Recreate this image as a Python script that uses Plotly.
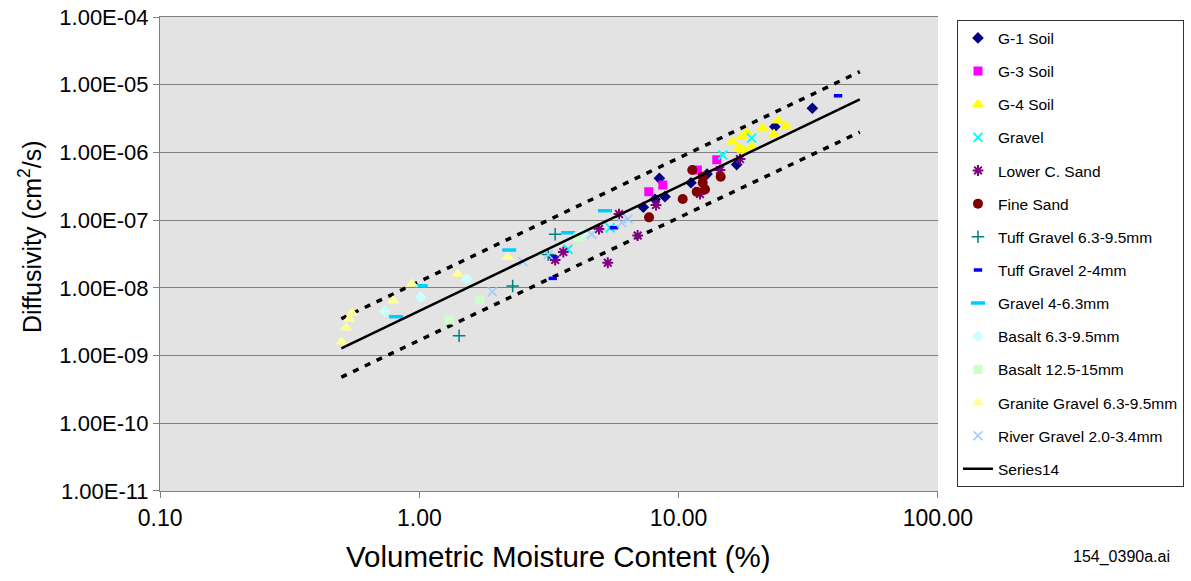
import plotly.graph_objects as go

# ---- data (volumetric moisture content %, diffusivity cm2/s) ----
g1_x = [7.31, 8.11, 8.43, 8.86, 11.16, 12.87, 16.75, 23.5, 32.8]
g1_y = [1.55e-7, 2.03e-7, 4.15e-7, 2.22e-7, 3.57e-7, 4.80e-7, 6.63e-7, 2.40e-6, 4.50e-6]

g3_x = [7.67, 8.69, 11.81, 14.03]
g3_y = [2.63e-7, 3.30e-7, 5.50e-7, 7.80e-7]

g4_x = [16.17, 17.51, 18.31, 17.1, 17.72, 19.13, 21.1, 23.3, 24.2, 25.9]
g4_y = [1.44e-6, 1.71e-6, 1.95e-6, 1.16e-6, 1.09e-6, 1.21e-6, 2.29e-6, 1.87e-6, 2.94e-6, 2.46e-6]

gravel_x = [3.74, 5.44, 14.8, 19.13]
gravel_y = [3.71e-8, 7.73e-8, 9.16e-7, 1.63e-6]

lcs_x = [3.34, 3.59, 4.93, 5.89, 5.33, 6.95, 8.18, 12.09, 14.44, 17.25]
lcs_y = [2.58e-8, 3.38e-8, 7.40e-8, 1.23e-7, 2.35e-8, 5.93e-8, 1.67e-7, 2.43e-7, 5.50e-7, 7.99e-7]

fine_x = [7.69, 10.37, 11.29, 12.38, 12.38, 12.64, 11.74, 14.53]
fine_y = [1.10e-7, 2.05e-7, 5.50e-7, 4.38e-7, 3.57e-7, 2.85e-7, 2.63e-7, 4.38e-7]

tuff63_x = [1.423, 2.29, 3.34, 3.14]
tuff63_y = [1.96e-9, 1.065e-8, 6.18e-8, 3.11e-8]

tuff24_x = [3.27, 3.28, 5.63, 41.2]
tuff24_y = [1.38e-8, 2.88e-8, 7.73e-8, 6.88e-6]

grav463_x = [0.813, 1.012, 2.22, 3.75, 5.20]
grav463_y = [3.75e-9, 1.075e-8, 3.62e-8, 6.52e-8, 1.378e-7]

bas63_x = [0.737, 1.012, 1.523, 4.24]
bas63_y = [4.44e-9, 7.32e-9, 1.35e-8, 6.24e-8]

bas125_x = [1.302, 1.714, 4.09]
bas125_y = [3.35e-9, 6.61e-9, 5.63e-8]

granite_x = [0.502, 0.521, 0.536, 0.550, 0.792, 0.937, 1.407, 2.19]
granite_y = [1.60e-9, 2.58e-9, 3.47e-9, 4.29e-9, 6.46e-9, 1.14e-8, 1.60e-8, 2.85e-8]

river_x = [1.912, 2.51, 3.14, 4.62, 6.03, 6.38]
river_y = [8.77e-9, 2.43e-8, 3.11e-8, 6.18e-8, 9.17e-8, 1.04e-7]

fit_x = [0.5, 50]
fit_y = [1.28e-9, 6.1e-6]
upper_y = [3.5e-9, 1.56e-5]
lower_y = [4.8e-10, 2.0e-6]

x_ticks = [0.1, 1, 10, 100]
x_labels = ["0.10", "1.00", "10.00", "100.00"]
y_ticks = [1e-4, 1e-5, 1e-6, 1e-7, 1e-8, 1e-9, 1e-10, 1e-11]
y_labels = ["1.00E-04", "1.00E-05", "1.00E-06", "1.00E-07",
            "1.00E-08", "1.00E-09", "1.00E-10", "1.00E-11"]

FONT = "Liberation Sans, Arial, sans-serif"

series = [
    ("G-1 Soil", g1_x, g1_y, dict(symbol="diamond", color="#000080", size=9)),
    ("G-3 Soil", g3_x, g3_y, dict(symbol="square", color="#FF00FF", size=9)),
    ("G-4 Soil", g4_x, g4_y, dict(symbol="triangle-up", color="#FFFF00", size=11)),
    ("Gravel", gravel_x, gravel_y, dict(symbol="x-thin-open", color="#00FFFF", size=9,
                                        line=dict(color="#00FFFF", width=2))),
    ("Lower C. Sand", lcs_x, lcs_y, dict(symbol="asterisk-open", color="#800080", size=9,
                                         line=dict(color="#800080", width=2))),
    ("Fine Sand", fine_x, fine_y, dict(symbol="circle", color="#800000", size=10)),
    ("Tuff Gravel 6.3-9.5mm", tuff63_x, tuff63_y, dict(symbol="cross-thin-open", color="#008080", size=9,
                                                      line=dict(color="#008080", width=1.5))),
    ("Tuff Gravel 2-4mm", tuff24_x, tuff24_y, dict(symbol="line-ew-open", color="#0000FF", size=6,
                                                  line=dict(color="#0000FF", width=3.5))),
    ("Gravel 4-6.3mm", grav463_x, grav463_y, dict(symbol="line-ew-open", color="#00CCFF", size=10,
                                                 line=dict(color="#00CCFF", width=3.5))),
    ("Basalt 6.3-9.5mm", bas63_x, bas63_y, dict(symbol="diamond", color="#CCFFFF", size=9)),
    ("Basalt 12.5-15mm", bas125_x, bas125_y, dict(symbol="square", color="#CCFFCC", size=9)),
    ("Granite Gravel 6.3-9.5mm", granite_x, granite_y, dict(symbol="triangle-up", color="#FFFF99", size=11)),
    ("River Gravel 2.0-3.4mm", river_x, river_y, dict(symbol="x-thin-open", color="#99CCFF", size=9,
                                                     line=dict(color="#99CCFF", width=1.5))),
]

fig = go.Figure()

for yy in (upper_y, lower_y):
    fig.add_trace(go.Scatter(x=fit_x, y=yy, mode="lines", showlegend=False,
                             line=dict(color="black", width=3.5, dash="6px,7px"),
                             hoverinfo="skip"))

for i, (name, xs, ys, mk) in enumerate(series):
    fig.add_trace(go.Scatter(x=xs, y=ys, mode="markers", name=name, marker=mk,
                             legendgroup=f"g{i:02d}"))

fig.add_trace(go.Scatter(x=fit_x, y=fit_y, mode="lines", name="Series14",
                         line=dict(color="black", width=2.5), legendgroup="g99"))

fig.update_layout(
    width=1191, height=581,
    margin=dict(l=160, r=253, t=17, b=90, autoexpand=False),
    paper_bgcolor="white",
    plot_bgcolor="#E3E3E3",
    font=dict(family=FONT, color="black"),
    legend=dict(x=1.0244, y=0.993, xanchor="left", yanchor="top",
                bgcolor="white", bordercolor="#333333", borderwidth=1,
                font=dict(size=15.5, family=FONT), traceorder="grouped",
                tracegroupgap=10),
    xaxis=dict(type="log", range=[-1.0005, 2.0005], tickvals=x_ticks, ticktext=x_labels,
               showgrid=False, zeroline=False, showline=True, linecolor="#808080",
               mirror=True,
               ticks="outside", ticklen=6, tickcolor="#808080",
               tickfont=dict(size=23), automargin=False, ticklabeloverflow="allow"),
    yaxis=dict(type="log", range=[-11.001, -3.999], tickvals=y_ticks, ticktext=y_labels,
               showgrid=True, gridcolor="#808080", gridwidth=1, zeroline=False,
               showline=True, linecolor="#808080",
               ticks="outside", ticklen=6, tickcolor="#808080",
               tickfont=dict(size=22), automargin=False, ticklabeloverflow="allow"),
    annotations=[
        dict(text="Diffusivity (cm<sup>2</sup>/s)", xref="paper", yref="paper",
             x=-0.167, y=0.536, textangle=-90, showarrow=False,
             font=dict(size=25), xanchor="center", yanchor="middle"),
        dict(text="Volumetric Moisture Content (%)", xref="paper", yref="paper",
             x=0.5116, y=-0.139, showarrow=False,
             font=dict(size=29.5), xanchor="center", yanchor="middle"),
        dict(text="154_0390a.ai", xref="paper", yref="paper", x=1.2365, y=-0.139,
             showarrow=False, font=dict(size=16), xanchor="center", yanchor="middle"),
    ],
)

fig.write_html("out.html",
               config={"displayModeBar": False},
               post_script="document.body.style.margin='0';document.body.style.overflow='hidden';")
